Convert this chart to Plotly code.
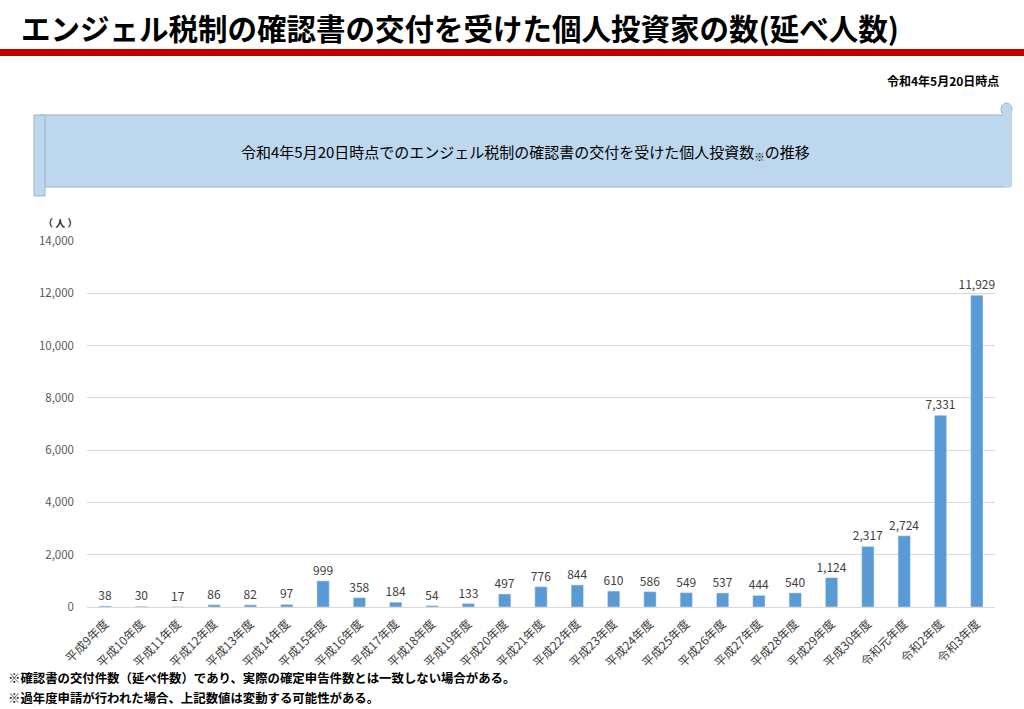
import plotly.graph_objects as go

# 年度と確認書交付人数（延べ）
categories = [
    "平成9年度", "平成10年度", "平成11年度", "平成12年度", "平成13年度",
    "平成14年度", "平成15年度", "平成16年度", "平成17年度", "平成18年度",
    "平成19年度", "平成20年度", "平成21年度", "平成22年度", "平成23年度",
    "平成24年度", "平成25年度", "平成26年度", "平成27年度", "平成28年度",
    "平成29年度", "平成30年度", "令和元年度", "令和2年度", "令和3年度",
]
investors = [38, 30, 17, 86, 82, 97, 999, 358, 184, 54, 133, 497, 776, 844,
             610, 586, 549, 537, 444, 540, 1124, 2317, 2724, 7331, 11929]

W, H = 1024, 709
L, R, T, B = 87, 29, 241, 102
FONT = "Noto Sans CJK JP"


def X(px):
    return (px - L) / (W - L - R)


def Y(py):
    return (H - B - py) / (H - T - B)


bars = go.Bar(
    x=categories,
    y=investors,
    marker=dict(color="#5B9BD5"),
    width=0.34,
    text=[f"{v:,}" for v in investors],
    textposition="outside",
    constraintext="none",
    textfont=dict(size=12, color="#404040", family=FONT),
    cliponaxis=False,
    hoverinfo="x+y",
)

edge = dict(color="#9DB4CA", width=1)
shapes = [
    # 赤い帯
    dict(type="rect", xref="paper", yref="paper", x0=X(0), x1=X(W), y0=Y(56), y1=Y(49),
         fillcolor="#C00000", line=dict(width=0), layer="below"),
    # 巻物風の見出し
    dict(type="rect", xref="paper", yref="paper", x0=X(40), x1=X(1010), y0=Y(187), y1=Y(115),
         fillcolor="#BDD7EE", line=edge, layer="below"),
    dict(type="rect", xref="paper", yref="paper", x0=X(34), x1=X(45), y0=Y(196), y1=Y(115),
         fillcolor="#BDD7EE", line=edge, layer="below"),
    dict(type="circle", xref="paper", yref="paper", x0=X(1001), x1=X(1012), y0=Y(116), y1=Y(103),
         fillcolor="#BDD7EE", line=edge, layer="below"),
    dict(type="rect", xref="paper", yref="paper", x0=X(1003), x1=X(1012), y0=Y(187), y1=Y(110),
         fillcolor="#BDD7EE", line=dict(width=0), layer="below"),
]

annotations = [
    dict(text="<b>エンジェル税制の確認書の交付を受けた個人投資家の数(延べ人数)</b>",
         xref="paper", yref="paper", x=X(19), y=Y(27), xanchor="left", yanchor="middle",
         showarrow=False, font=dict(size=29.5, color="#000000", family=FONT)),
    dict(text="<b>令和4年5月20日時点</b>", xref="paper", yref="paper",
         x=X(1001), y=Y(80), xanchor="right", yanchor="middle",
         showarrow=False, font=dict(size=12, color="#000000", family=FONT)),
    dict(text="令和4年5月20日時点でのエンジェル税制の確認書の交付を受けた個人投資数<sub>※</sub>の推移",
         xref="paper", yref="paper", x=X(525), y=Y(152), xanchor="center", yanchor="middle",
         showarrow=False, font=dict(size=15, color="#000000", family=FONT)),
    dict(text="<b>（ 人 ）</b>", xref="paper", yref="paper", x=X(60), y=Y(222),
         xanchor="center", yanchor="middle", showarrow=False,
         font=dict(size=10, color="#262626", family=FONT)),
    dict(text="<b>※確認書の交付件数（延べ件数）であり、実際の確定申告件数とは一致しない場合がある。</b>",
         xref="paper", yref="paper", x=X(6), y=Y(678), xanchor="left", yanchor="middle",
         showarrow=False, font=dict(size=12.4, color="#000000", family=FONT)),
    dict(text="<b>※過年度申請が行われた場合、上記数値は変動する可能性がある。</b>",
         xref="paper", yref="paper", x=X(6), y=Y(698), xanchor="left", yanchor="middle",
         showarrow=False, font=dict(size=12.4, color="#000000", family=FONT)),
]

layout = go.Layout(
    width=W,
    height=H,
    margin=dict(l=L, r=R, t=T, b=B),
    paper_bgcolor="#FFFFFF",
    plot_bgcolor="#FFFFFF",
    showlegend=False,
    font=dict(family=FONT, color="#595959"),
    xaxis=dict(
        tickangle=-45,
        tickfont=dict(size=12, color="#404040", family=FONT),
        showgrid=False,
        showline=True,
        linecolor="#D9D9D9",
        linewidth=1,
        ticks="",
        ticklabelstandoff=4,
    ),
    yaxis=dict(
        range=[0, 14000],
        dtick=2000,
        tickformat=",",
        tickfont=dict(size=11.5, color="#595959", family=FONT),
        showgrid=True,
        gridcolor="#D9D9D9",
        zeroline=False,
        showline=False,
        ticks="",
        ticklabelstandoff=12,
    ),
    shapes=shapes,
    annotations=annotations,
)

fig = go.Figure(data=[bars], layout=layout)
fig.write_html("out.html", config={"displayModeBar": False},
               post_script="document.body.style.margin='0';")
